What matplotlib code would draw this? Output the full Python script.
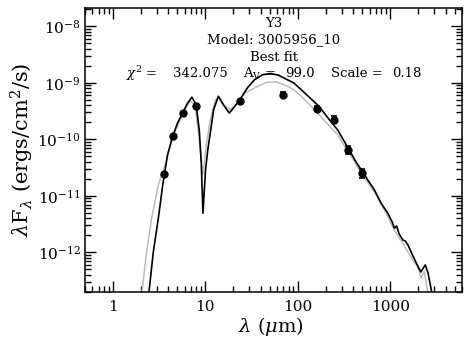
import matplotlib
matplotlib.use("Agg")
import matplotlib.pyplot as plt
from matplotlib.ticker import LogLocator, NullFormatter

plt.rcParams['font.family'] = ['DejaVu Serif']
plt.rcParams['mathtext.fontset'] = 'dejavuserif'

# observed photometry (micron, erg/cm2/s)
wave_obs = [3.6, 4.5, 5.8, 8.0, 24, 70, 160, 250, 350, 500]
flux_obs = [2.42e-11, 1.13e-10, 2.97e-10, 3.84e-10, 4.77e-10,
            6.2e-10, 3.5e-10, 2.24e-10, 6.6e-11, 2.52e-11]
err_obs = [7e-13, 3e-12, 8e-12, 1e-11, 1.2e-11,
           6e-11, 3.5e-11, 3.3e-11, 1.0e-11, 4.2e-12]

# best fit model (black)
wave_fit = [2.40, 2.46, 2.74, 3.11, 3.47, 3.91, 4.45, 5.02, 5.72, 6.37, 7.17,
            7.98, 8.39, 8.61, 9.05, 9.44, 10.07, 10.65, 11.33, 12.31, 13.85,
            15.70, 18.23, 20.66, 24.0, 28.6, 34.1, 41.7, 50.9, 62.1, 91.2,
            125, 170.5, 212, 270, 352, 427, 492, 572, 675, 798, 944, 1051,
            1114, 1177, 1253, 1374, 1456, 1557, 1766, 1918, 2147, 2400, 2570,
            2790, 2860]
flux_fit = [1.2e-13, 2.0e-13, 1.02e-12, 4.08e-12, 1.57e-11, 5.32e-11, 1.15e-10,
            1.96e-10, 2.98e-10, 4.25e-10, 5.58e-10, 4.08e-10, 2.04e-10,
            1.47e-10, 3.79e-11, 4.94e-12, 2.88e-11, 6.52e-11, 1.29e-10,
            3.33e-10, 5.77e-10, 4.08e-10, 2.91e-10, 3.76e-10, 5.21e-10,
            8.16e-10, 1.13e-9, 1.39e-9, 1.46e-9, 1.36e-9, 9.88e-10, 6.14e-10,
            3.81e-10, 2.40e-10, 1.47e-10, 6.98e-11, 4.0e-11, 2.82e-11,
            1.92e-11, 1.28e-11, 7.43e-12, 4.94e-12, 3.47e-12, 2.68e-12,
            2.94e-12, 2.12e-12, 1.66e-12, 1.60e-12, 1.36e-12, 8.67e-13,
            6.52e-13, 4.52e-13, 6.01e-13, 4.34e-13, 2.17e-13, 1.44e-13]

# second model (grey)
wave_alt = [2.02, 2.32, 2.63, 3.11, 3.58, 4.45, 5.72, 6.87, 7.79, 8.61, 9.44,
            10.25, 11.33, 12.85, 14.2, 16.1, 18.7, 21.7, 27.2, 36.5, 46.0,
            57.6, 72.2, 91.2, 108, 167, 270, 358, 492, 670, 927, 1105, 1350,
            1692, 1965, 2173, 2342, 2524, 2600]
flux_alt = [1.44e-13, 1.03e-12, 4.03e-12, 1.57e-11, 3.13e-11, 1.11e-10,
            2.82e-10, 4.80e-10, 3.92e-10, 9.8e-11, 2.36e-11, 8.0e-11,
            2.21e-10, 5.0e-10, 5.43e-10, 3.92e-10, 3.33e-10, 4.25e-10,
            6.65e-10, 8.60e-10, 1.02e-9, 1.04e-9, 9.22e-10, 7.52e-10,
            5.89e-10, 2.82e-10, 1.20e-10, 5.77e-11, 2.52e-11, 1.20e-11,
            4.61e-12, 2.50e-12, 1.53e-12, 8.0e-13, 5.77e-13, 3.54e-13,
            4.71e-13, 2.17e-13, 1.4e-13]

y_major = [1e-12, 1e-11, 1e-10, 1e-9, 1e-8]
y_labels = [r'$10^{-12}$', r'$10^{-11}$', r'$10^{-10}$', r'$10^{-9}$', r'$10^{-8}$']

fig = plt.figure(figsize=(4.71, 3.48), dpi=100)
ax = fig.add_axes([0.1805, 0.161, 0.8005, 0.816])

ax.plot(wave_alt, flux_alt, color='#bcbcbc', lw=1.1)
ax.plot(wave_fit, flux_fit, color='black', lw=1.2)
ax.errorbar(wave_obs, flux_obs, yerr=err_obs, fmt='o', color='black',
            ms=5, capsize=2.5, elinewidth=1.2, capthick=1.2)

ax.set_xscale('log')
ax.set_yscale('log')
ax.set_xlim(0.5, 6000)
ax.set_ylim(2e-13, 2.1e-8)

ax.set_xticks([1, 10, 100, 1000])
ax.set_xticklabels(['1', '10', '100', '1000'])
ax.set_yticks(y_major)
ax.set_yticklabels(y_labels)
ax.xaxis.set_minor_locator(LogLocator(base=10, subs=range(2, 10), numticks=20))
ax.xaxis.set_minor_formatter(NullFormatter())
ax.yaxis.set_minor_locator(LogLocator(base=10, subs=range(2, 10), numticks=20))
ax.yaxis.set_minor_formatter(NullFormatter())

ax.tick_params(which='both', direction='in', top=True, right=True,
               labelsize=11, width=1.0)
ax.tick_params(which='major', length=8)
ax.tick_params(axis='x', which='major', pad=6)
ax.tick_params(axis='y', which='major', pad=3)
ax.tick_params(which='minor', length=4.5)
for s in ax.spines.values():
    s.set_linewidth(1.1)

ax.set_xlabel(r'$\lambda$ ($\mu$m)', fontsize=14)
ax.set_ylabel(r'$\lambda$F$_\lambda$ (ergs/cm$^2$/s)', fontsize=15)
ax.xaxis.set_label_coords(0.493, -0.123)
ax.yaxis.set_label_coords(-0.167, 0.5)
ax.xaxis.label.set_va('center')
ax.yaxis.label.set_va('center')

tkw = dict(transform=ax.transAxes, fontsize=9.5, va='center')
ax.text(0.5, 0.947, 'Y3', ha='center', **tkw)
ax.text(0.5, 0.887, 'Model: 3005956_10', ha='center', **tkw)
ax.text(0.5, 0.827, 'Best fit', ha='center', **tkw)
ax.text(0.109, 0.768, r'$\chi^2$ =', ha='left', **tkw)
ax.text(0.233, 0.768, '342.075', ha='left', **tkw)
ax.text(0.419, 0.768, r'A$_{\rm V}$ =', ha='left', **tkw)
ax.text(0.531, 0.768, '99.0', ha='left', **tkw)
ax.text(0.653, 0.768, 'Scale =', ha='left', **tkw)
ax.text(0.814, 0.768, '0.18', ha='left', **tkw)

fig.savefig('out.png', dpi=100)
